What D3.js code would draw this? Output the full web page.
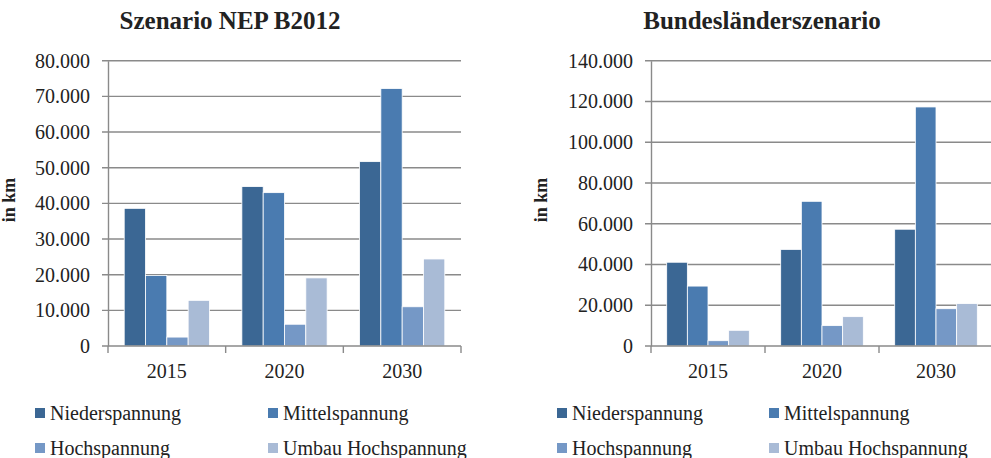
<!DOCTYPE html>
<html>
<head>
<meta charset="utf-8">
<script src="https://cdn.jsdelivr.net/npm/d3@7"></script>
<style>
  body { margin: 0; background: #fff; }
  svg text { font-family: "Liberation Serif", "Times New Roman", serif; }
</style>
</head>
<body>
<svg width="991" height="458"></svg>
<script>
// data (km)
const years = ["2015", "2020", "2030"];
const seriesNames = ["Niederspannung", "Mittelspannung", "Hochspannung", "Umbau Hochspannung"];
const colors = ["#3b6794", "#4a7bb0", "#7598c6", "#a9bbd6"];

// Szenario NEP B2012
const nepNieder = [38600, 44700, 51700];
const nepMittel = [19800, 43000, 72200];
const nepHoch = [2500, 6100, 11000];
const nepUmbau = [12800, 19100, 24400];

// Bundesländerszenario
const blNieder = [41100, 47400, 57300];
const blMittel = [29400, 71000, 117300];
const blHoch = [2600, 10000, 18300];
const blUmbau = [7700, 14400, 20800];

const de = d3.formatLocale({decimal: ",", thousands: ".", grouping: [3], currency: ["", "€"]});
const fmt = de.format(",");

const svg = d3.select("svg");
const serif = "Liberation Serif, Times New Roman, serif";

function drawChart(opt) {
    const series = opt.series;
    const g = svg.append("g").attr("font-family", serif);

    const y = d3.scaleLinear()
        .domain([0, opt.max])
        .range([346, 60.7]);

    const x = d3.scaleBand()
        .domain(years)
        .range([opt.left, opt.right])
        .paddingInner(0)
        .paddingOuter(0);

    // gridlines
    g.append("g").selectAll("line")
        .data(d3.range(opt.step, opt.max + 1, opt.step))
        .enter().append("line")
        .attr("x1", opt.left - 6)
        .attr("x2", opt.right)
        .attr("y1", d => y(d))
        .attr("y2", d => y(d))
        .attr("stroke", "#8a8a8a")
        .attr("stroke-width", 1.4);

    // y axis
    const yAxis = d3.axisLeft(y)
        .tickValues(d3.range(0, opt.max + 1, opt.step))
        .tickFormat(fmt)
        .tickSize(0)
        .tickPadding(18);
    const ya = g.append("g")
        .attr("transform", `translate(${opt.left}, 0)`)
        .call(yAxis)
        .attr("font-family", serif)
        .attr("font-size", 20);
    ya.select(".domain").attr("stroke", "#8a8a8a").attr("stroke-width", 1.4);
    ya.selectAll("text").attr("fill", "#222");

    // bars
    const x1 = d3.scaleBand()
        .domain(d3.range(series.length))
        .range([0, x.bandwidth()])
        .paddingOuter(0.76)
        .paddingInner(0);

    years.forEach((yr, i) => {
        g.append("g").selectAll("rect")
            .data(series.map((s, k) => ({k: k, v: s[i]})))
            .enter().append("rect")
            .attr("x", d => x(yr) + x1(d.k))
            .attr("width", x1.bandwidth())
            .attr("y", d => y(d.v))
            .attr("height", d => y(0) - y(d.v))
            .attr("fill", d => colors[d.k])
            .attr("stroke", "#fff")
            .attr("stroke-width", 0.8);
    });

    // x axis line + boundary ticks
    g.append("line")
        .attr("x1", opt.left - 6).attr("x2", opt.right)
        .attr("y1", y(0)).attr("y2", y(0))
        .attr("stroke", "#8a8a8a").attr("stroke-width", 1.6);
    g.append("g").selectAll("line")
        .data(years.map(yr => x(yr)).concat([opt.right]))
        .enter().append("line")
        .attr("x1", d => d).attr("x2", d => d)
        .attr("y1", y(0)).attr("y2", y(0) + 7)
        .attr("stroke", "#8a8a8a").attr("stroke-width", 1.4);

    g.append("g").selectAll("text")
        .data(years)
        .enter().append("text")
        .attr("x", d => x(d) + x.bandwidth() / 2)
        .attr("y", 378)
        .attr("text-anchor", "middle")
        .attr("font-size", "20px")
        .attr("fill", "#222")
        .text(d => d);

    // title
    g.append("text")
        .attr("x", opt.titleX)
        .attr("y", 29)
        .attr("text-anchor", "middle")
        .attr("font-size", "25px")
        .attr("font-weight", "bold")
        .attr("fill", "#222")
        .text(opt.title);

    // y label
    g.append("text")
        .attr("transform", `translate(${opt.labelX}, 200) rotate(-90)`)
        .attr("text-anchor", "middle")
        .attr("font-size", "18px")
        .attr("font-weight", "bold")
        .attr("fill", "#222")
        .text("in km");

    // legend
    seriesNames.forEach((name, k) => {
        const lx = opt.legendX[k % 2];
        const ly = k < 2 ? 420 : 455;
        g.append("rect")
            .attr("x", lx).attr("y", ly - 12)
            .attr("width", 10).attr("height", 10)
            .attr("fill", colors[k]);
        g.append("text")
            .attr("x", lx + 15).attr("y", ly)
            .attr("font-size", "20px")
            .attr("fill", "#222")
            .text(name);
    });
}

drawChart({
    title: "Szenario NEP B2012",
    titleX: 230,
    series: [nepNieder, nepMittel, nepHoch, nepUmbau],
    max: 80000, step: 10000,
    left: 108, right: 461,
    labelX: 15,
    legendX: [35, 268]
});

drawChart({
    title: "Bundesländerszenario",
    titleX: 762,
    series: [blNieder, blMittel, blHoch, blUmbau],
    max: 140000, step: 20000,
    left: 651, right: 993,
    labelX: 547,
    legendX: [557, 769]
});
</script>
</body>
</html>
